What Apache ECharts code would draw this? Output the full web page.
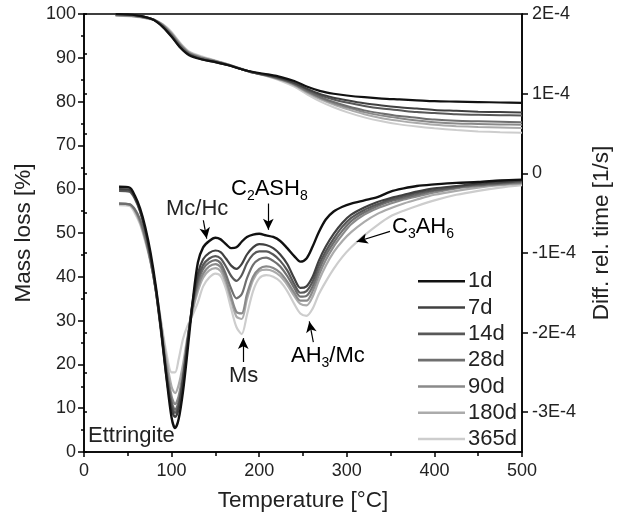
<!DOCTYPE html>
<html>
<head>
<meta charset="utf-8">
<script src="https://cdn.jsdelivr.net/npm/echarts@6/dist/echarts.min.js"></script>
<style>html,body{margin:0;padding:0;background:#fff}#c{width:626px;height:524px}</style>
</head>
<body>
<div id="c"></div>
<script>
// ---- data ----
const ages = ['1d', '7d', '14d', '28d', '90d', '180d', '365d'];
const colors = ['#111111', '#404040', '#585858', '#6f6f6f', '#8a8a8a', '#ababab', '#cdcdcd'];
const xTicks = [0, 100, 200, 300, 400, 500];
const yLeftTicks = [0, 10, 20, 30, 40, 50, 60, 70, 80, 90, 100];
const yRightTicks = [-3, -2, -1, 0, 1, 2]; // in units of 1E-4 1/s

// TG (mass loss, %) temperatures
const T_TG = [36, 50, 60, 70, 80, 90, 100, 110, 120, 135, 150, 165, 180, 195, 210, 225, 240, 255, 270, 285, 300, 320, 340, 360, 380, 400, 425, 450, 475, 500];
const TG_1d   = [100, 99.9, 99.7, 99.3, 98.6, 97.0, 94.8, 92.3, 90.6, 89.6, 89.0, 88.3, 87.4, 86.7, 86.2, 85.6, 84.7, 83.4, 82.4, 81.8, 81.4, 81.0, 80.7, 80.5, 80.3, 80.1, 80.0, 79.9, 79.8, 79.7];
const TG_7d   = [100, 99.9, 99.7, 99.3, 98.6, 97.1, 94.9, 92.4, 90.7, 89.6, 89.0, 88.3, 87.4, 86.6, 86.0, 85.3, 84.3, 82.9, 81.7, 80.9, 80.3, 79.6, 79.1, 78.7, 78.4, 78.1, 77.9, 77.7, 77.6, 77.5];
const TG_14d  = [100, 99.9, 99.7, 99.3, 98.7, 97.2, 95.0, 92.5, 90.8, 89.7, 89.1, 88.3, 87.4, 86.6, 86.0, 85.2, 84.2, 82.7, 81.4, 80.5, 79.8, 79.0, 78.4, 78.0, 77.6, 77.4, 77.1, 77.0, 76.9, 76.8];
const TG_28d  = [99.8, 99.7, 99.5, 99.2, 98.7, 97.4, 95.3, 92.8, 91.0, 89.9, 89.2, 88.4, 87.4, 86.5, 85.9, 85.1, 84.0, 82.4, 81.0, 79.9, 79.0, 78.0, 77.3, 76.7, 76.3, 75.9, 75.6, 75.5, 75.4, 75.3];
const TG_90d  = [99.7, 99.6, 99.4, 99.1, 98.6, 97.5, 95.5, 93.0, 91.1, 90.0, 89.3, 88.4, 87.4, 86.5, 85.9, 85.0, 83.9, 82.2, 80.8, 79.6, 78.7, 77.6, 76.8, 76.2, 75.7, 75.3, 75.0, 74.9, 74.8, 74.7];
const TG_180d = [99.7, 99.6, 99.4, 99.1, 98.7, 97.6, 95.7, 93.2, 91.3, 90.1, 89.3, 88.5, 87.5, 86.5, 85.8, 84.9, 83.7, 82.0, 80.5, 79.3, 78.3, 77.1, 76.2, 75.6, 75.1, 74.7, 74.4, 74.2, 74.1, 74.0];
const TG_365d = [99.6, 99.5, 99.3, 99.0, 98.6, 97.7, 95.9, 93.4, 91.5, 90.3, 89.4, 88.5, 87.5, 86.5, 85.7, 84.7, 83.4, 81.6, 80.0, 78.7, 77.6, 76.4, 75.5, 74.8, 74.3, 73.9, 73.5, 73.2, 73.0, 72.9];

// DTG (diff. rel. time, 1E-4 1/s) temperatures
const T_DTG = [40, 52, 58, 64, 70, 76, 82, 88, 94, 100, 104, 108, 113, 118, 124, 130, 136, 143, 150, 156, 162, 168, 174, 180, 186, 193, 200, 208, 216, 224, 232, 240, 247, 254, 261, 268, 276, 285, 295, 305, 320, 335, 350, 365, 380, 400, 425, 450, 475, 500];
const DTG_1d   = [-0.17, -0.18, -0.28, -0.44, -0.68, -1.00, -1.42, -1.95, -2.55, -3.07, -3.20, -3.09, -2.74, -2.25, -1.62, -1.12, -0.93, -0.85, -0.81, -0.83, -0.89, -0.94, -0.93, -0.86, -0.80, -0.77, -0.76, -0.78, -0.80, -0.85, -0.94, -1.04, -1.11, -1.07, -0.92, -0.74, -0.58, -0.48, -0.42, -0.38, -0.34, -0.30, -0.23, -0.19, -0.16, -0.14, -0.12, -0.11, -0.09, -0.08];
const DTG_7d   = [-0.20, -0.21, -0.30, -0.47, -0.72, -1.05, -1.47, -2.00, -2.55, -2.96, -3.06, -2.96, -2.60, -2.15, -1.62, -1.26, -1.08, -1.00, -0.97, -0.99, -1.07, -1.16, -1.20, -1.14, -1.02, -0.93, -0.89, -0.90, -0.94, -1.02, -1.14, -1.32, -1.44, -1.42, -1.30, -1.10, -0.92, -0.76, -0.62, -0.52, -0.43, -0.36, -0.31, -0.27, -0.23, -0.19, -0.16, -0.13, -0.11, -0.09];
const DTG_14d  = [-0.22, -0.23, -0.32, -0.48, -0.72, -1.05, -1.46, -1.97, -2.50, -2.91, -3.01, -2.92, -2.59, -2.13, -1.64, -1.32, -1.15, -1.07, -1.04, -1.07, -1.17, -1.29, -1.35, -1.28, -1.13, -1.02, -0.98, -0.98, -1.02, -1.10, -1.22, -1.39, -1.50, -1.48, -1.36, -1.16, -0.98, -0.82, -0.67, -0.56, -0.46, -0.39, -0.33, -0.29, -0.25, -0.21, -0.17, -0.14, -0.12, -0.10];
const DTG_28d  = [-0.38, -0.39, -0.45, -0.58, -0.80, -1.10, -1.48, -1.96, -2.47, -2.87, -2.97, -2.87, -2.56, -2.12, -1.66, -1.37, -1.20, -1.12, -1.09, -1.13, -1.27, -1.45, -1.57, -1.52, -1.32, -1.15, -1.08, -1.06, -1.10, -1.17, -1.29, -1.44, -1.55, -1.54, -1.42, -1.22, -1.03, -0.87, -0.72, -0.60, -0.49, -0.41, -0.35, -0.31, -0.27, -0.22, -0.18, -0.15, -0.13, -0.11];
const DTG_90d  = [-0.38, -0.39, -0.46, -0.60, -0.82, -1.10, -1.47, -1.93, -2.42, -2.80, -2.90, -2.80, -2.50, -2.10, -1.70, -1.43, -1.26, -1.17, -1.14, -1.18, -1.33, -1.55, -1.74, -1.76, -1.52, -1.30, -1.20, -1.17, -1.19, -1.25, -1.36, -1.50, -1.60, -1.60, -1.48, -1.28, -1.09, -0.92, -0.77, -0.64, -0.52, -0.44, -0.38, -0.33, -0.29, -0.24, -0.19, -0.16, -0.14, -0.12];
const DTG_180d = [-0.38, -0.39, -0.47, -0.62, -0.84, -1.11, -1.46, -1.88, -2.33, -2.68, -2.76, -2.66, -2.40, -2.06, -1.73, -1.48, -1.31, -1.22, -1.19, -1.23, -1.38, -1.60, -1.80, -1.83, -1.58, -1.34, -1.23, -1.21, -1.23, -1.29, -1.40, -1.54, -1.64, -1.66, -1.55, -1.35, -1.16, -0.99, -0.85, -0.74, -0.61, -0.51, -0.44, -0.38, -0.33, -0.27, -0.22, -0.18, -0.15, -0.13];
const DTG_365d = [-0.40, -0.41, -0.50, -0.64, -0.86, -1.12, -1.44, -1.86, -2.25, -2.50, -2.50, -2.34, -2.08, -1.92, -1.78, -1.62, -1.42, -1.31, -1.26, -1.29, -1.45, -1.70, -1.93, -2.02, -1.78, -1.48, -1.32, -1.28, -1.30, -1.36, -1.48, -1.64, -1.76, -1.79, -1.70, -1.52, -1.36, -1.20, -1.05, -0.93, -0.78, -0.65, -0.54, -0.47, -0.41, -0.34, -0.27, -0.22, -0.18, -0.15];

const TG = [TG_1d, TG_7d, TG_14d, TG_28d, TG_90d, TG_180d, TG_365d];
const DTG = [DTG_1d, DTG_7d, DTG_14d, DTG_28d, DTG_90d, DTG_180d, DTG_365d];

// annotation arrows in data coords [T, DTG]
const arrows = [
  [[136.2, -0.59], [140.1, -0.82]],   // Mc/Hc
  [[210.4, -0.38], [210.4, -0.71]],   // C2ASH8
  [[181.8, -2.37], [181.8, -2.07]],   // Ms
  [[261.8, -2.12], [257.2, -1.86]],   // AH3/Mc
  [[349.3, -0.73], [311.3, -0.86]]    // C3AH6
];

// ---- chart ----
const FONT = 'Liberation Sans, Arial, Helvetica, sans-serif';
const TXT = '#222';
const chart = echarts.init(document.getElementById('c'), null, {renderer: 'canvas'});

const series = [];
ages.forEach((a, i) => {
  series.push({
    name: 'TG ' + a, type: 'line', xAxisIndex: 0, yAxisIndex: 0,
    data: T_TG.map((t, j) => [t, TG[i][j]]),
    showSymbol: false, symbol: 'none', smooth: 0.3,
    lineStyle: {color: colors[i], width: i === 0 ? 2.2 : 2},
    itemStyle: {color: colors[i]}, z: 10 - i, silent: true
  });
});
ages.forEach((a, i) => {
  const s = {
    name: a, type: 'line', xAxisIndex: 0, yAxisIndex: 1,
    data: T_DTG.map((t, j) => [t, DTG[i][j]]),
    showSymbol: false, symbol: 'none', smooth: 0.3,
    lineStyle: {color: colors[i], width: i === 0 ? 2.4 : 2.2},
    itemStyle: {color: colors[i]}, z: 10 - i, silent: true
  };
  if (i === 0) {
    s.markLine = {
      silent: true, animation: false,
      symbol: ['none', 'arrow'], symbolSize: [8, 11],
      lineStyle: {color: '#000', width: 1.2, type: 'solid'},
      label: {show: false},
      emphasis: {disabled: true},
      data: arrows.map(p => [{coord: p[0]}, {coord: p[1]}])
    };
  }
  series.push(s);
});

const tickStyle = {color: '#000', width: 1.5};
const sub = {fontSize: 14, fontFamily: FONT, color: TXT, padding: [11, 0, 0, 0], verticalAlign: 'top', lineHeight: 15};
const main = {fontSize: 22, fontFamily: FONT, color: TXT, verticalAlign: 'top', lineHeight: 25};

const option = {
  animation: false,
  backgroundColor: '#fff',
  grid: {left: 84, right: 104, top: 14, bottom: 72, show: true, borderColor: '#000', borderWidth: 1.5, backgroundColor: 'transparent'},
  legend: {
    data: ages.map((a, i) => ({name: a, icon: 'rect', itemStyle: {color: colors[i]}})),
    orient: 'vertical', left: 418, top: 270, padding: 0,
    itemWidth: 47, itemHeight: 2.6, itemGap: 3.8,
    textStyle: {fontSize: 22, fontFamily: FONT, color: TXT, lineHeight: 22.5, padding: [0, 0, 0, -2]},
    selectedMode: false
  },
  xAxis: {
    type: 'value', min: 0, max: 500, interval: 100,
    name: 'Temperature [°C]', nameLocation: 'middle', nameGap: 37,
    nameTextStyle: {fontSize: 22.5, fontFamily: FONT, color: TXT},
    axisLine: {lineStyle: tickStyle},
    axisTick: {show: true, length: 5, lineStyle: tickStyle},
    minorTick: {show: true, splitNumber: 2, length: 4, lineStyle: tickStyle},
    axisLabel: {fontSize: 18, fontFamily: FONT, color: TXT, margin: 10, formatter: v => xTicks.includes(v) ? String(v) : ''},
    splitLine: {show: false}
  },
  yAxis: [
    {
      type: 'value', min: 0, max: 100, interval: 10, position: 'left',
      name: 'Mass loss [%]', nameLocation: 'middle', nameGap: 42, nameRotate: 90,
      nameTextStyle: {fontSize: 22.5, fontFamily: FONT, color: TXT},
      axisLine: {show: true, onZero: false, lineStyle: tickStyle},
      axisTick: {show: true, length: 6, lineStyle: tickStyle},
      minorTick: {show: true, splitNumber: 2, length: 3, lineStyle: tickStyle},
      axisLabel: {fontSize: 18, fontFamily: FONT, color: TXT, margin: 8, formatter: v => yLeftTicks.includes(v) ? String(v) : ''},
      splitLine: {show: false}
    },
    {
      type: 'value', min: -3.5, max: 2, position: 'right',
      name: 'Diff. rel. time [1/s]', nameLocation: 'middle', nameGap: 68, nameRotate: 90,
      nameTextStyle: {fontSize: 22.5, fontFamily: FONT, color: TXT},
      axisLine: {show: true, onZero: false, lineStyle: tickStyle},
      axisTick: {show: true, length: 6, customValues: yRightTicks, lineStyle: tickStyle},
      axisLabel: {fontSize: 18, fontFamily: FONT, color: TXT, margin: 10, customValues: yRightTicks,
        formatter: v => v === 0 ? '0' : (Math.round(v) + 'E-4')},
      splitLine: {show: false}
    },
    {
      type: 'value', min: -3.5, max: 2, interval: 0.5, position: 'right',
      axisLine: {show: false},
      axisTick: {show: true, length: 3, lineStyle: tickStyle},
      axisLabel: {show: false},
      splitLine: {show: false}
    }
  ],
  graphic: [
    {type: 'text', left: 166, top: 198, style: {text: 'Mc/Hc', font: '22px ' + FONT, fill: TXT}, silent: true},
    {type: 'text', left: 231, top: 178, style: {text: '{a|C}{s|2}{a|ASH}{s|8}', rich: {a: main, s: sub}}, silent: true},
    {type: 'text', left: 229, top: 365, style: {text: 'Ms', font: '22px ' + FONT, fill: TXT}, silent: true},
    {type: 'text', left: 291, top: 345, style: {text: '{a|AH}{s|3}{a|/Mc}', rich: {a: main, s: sub}}, silent: true},
    {type: 'text', left: 392, top: 216, style: {text: '{a|C}{s|3}{a|AH}{s|6}', rich: {a: main, s: sub}}, silent: true},
    {type: 'text', left: 88, top: 425, style: {text: 'Ettringite', font: '22px ' + FONT, fill: TXT}, silent: true}
  ],
  series: series
};
chart.setOption(option);
</script>
</body>
</html>
